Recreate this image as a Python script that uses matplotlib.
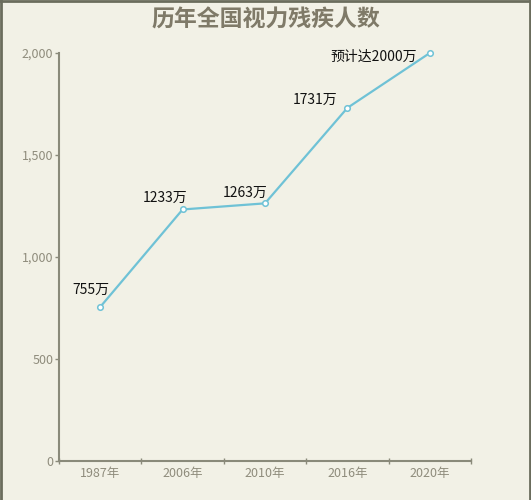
import matplotlib
matplotlib.use('Agg')

from matplotlib import pyplot as plt
from matplotlib.lines import Line2D

years = ['1987年', '2006年', '2010年', '2016年', '2020年']
counts = [755, 1233, 1263, 1731, 2000]
labels = ['755万', '1233万', '1263万', '1731万', '预计达2000万']
title = '历年全国视力残疾人数'

# label offsets in pixels (right edge, vertical centre) from each point
label_offsets = [(9, 17), (5, 12), (3, 10), (-10, 8), (-13, -4)]

plt.rcParams['font.family'] = ['Noto Sans CJK SC', 'DejaVu Sans']

bg = '#f2f1e6'
axis_col = '#8a8a7a'
tick_col = '#8f8c7c'
line_col = '#6fc2d6'

fig = plt.figure(figsize=(5.31, 5.0), dpi=100, facecolor=bg)
ax = fig.add_axes([59 / 531, 39 / 500, 412 / 531, 408 / 500])
ax.set_facecolor(bg)

x = list(range(len(years)))
ax.plot(x, counts, color=line_col, lw=1.6, marker='o', markersize=4,
        markerfacecolor='white', markeredgecolor=line_col, markeredgewidth=1.1,
        zorder=3, clip_on=False)

for xi, yi, lab, (dx, dy) in zip(x, counts, labels, label_offsets):
    ax.annotate(lab, (xi, yi), xytext=(dx, dy), textcoords='offset pixels',
                ha='right', va='center', fontsize=10, color='#111111')

ax.set_xlim(-0.5, len(years) - 0.5)
ax.set_ylim(0, 2000)
ax.set_yticks([0, 500, 1000, 1500, 2000])
ax.set_yticklabels(['0', '500', '1,000', '1,500', '2,000'])
ax.set_xticks(x)
ax.set_xticklabels(years)
ax.set_xticks([i - 0.5 for i in range(len(years) + 1)], minor=True)

for s in ['top', 'right']:
    ax.spines[s].set_visible(False)
for s in ['left', 'bottom']:
    ax.spines[s].set_color(axis_col)
    ax.spines[s].set_linewidth(1.5)

ax.tick_params(axis='y', direction='out', length=3, width=1, color=axis_col,
               labelcolor=tick_col, labelsize=9, pad=1)
ax.tick_params(axis='x', which='major', length=0, labelcolor=tick_col,
               labelsize=9, pad=4)
ax.tick_params(axis='x', which='minor', direction='inout', length=4, width=1,
               color=axis_col)

fig.text(0.5, 1 - 20 / 500, title, ha='center', va='center', fontsize=16.5,
         fontweight='bold', color='#7f7a68')

# frame round the picture (top, left, right)
border = '#6b6d5d'
fig.add_artist(Line2D([0.002, 0.002], [0, 1], transform=fig.transFigure, color=border, lw=2))
fig.add_artist(Line2D([0.998, 0.998], [0, 1], transform=fig.transFigure, color=border, lw=2))
fig.add_artist(Line2D([0, 1], [0.998, 0.998], transform=fig.transFigure, color=border, lw=2))

fig.savefig('out.png', dpi=100, facecolor=bg)
